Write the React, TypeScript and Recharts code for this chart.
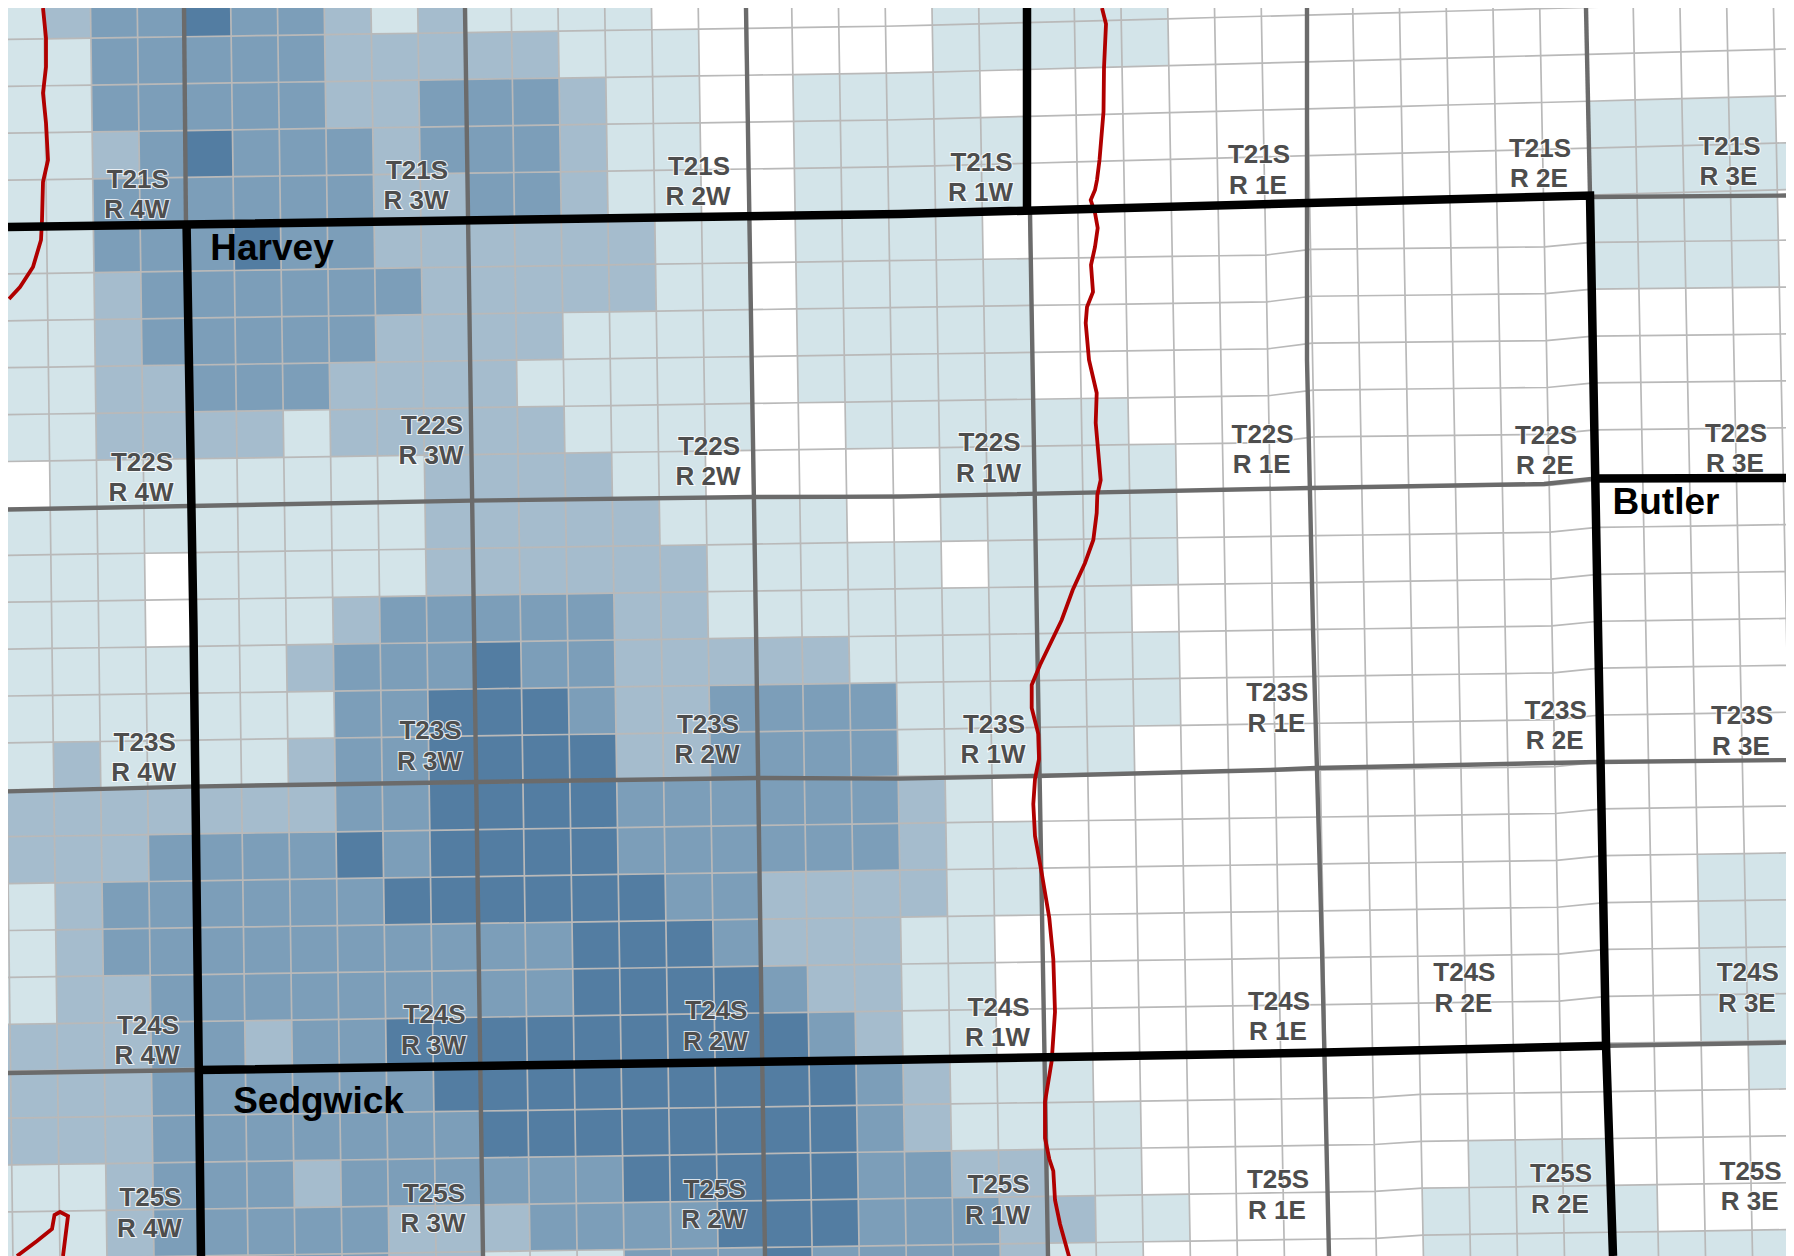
import React from 'react';
import { ScatterChart, Scatter, XAxis, YAxis } from 'recharts';

// Choropleth class of every section, row by row (north to south), column by column (west to east)
const levelRows: number[][] = [
  [1,2,3,3,4,3,3,2,1,2,1,1,1,1,0,0,0,0,0,0,1,1,1,1,1],
  [1,1,3,3,3,3,3,2,2,2,2,2,1,1,1,0,0,0,0,0,1,1,1,1,1],
  [1,1,3,3,3,3,3,2,2,3,3,3,2,1,1,0,0,1,1,1,1,0],
  [1,1,2,3,4,3,3,3,2,3,3,3,2,1,1,0,0,1,1,1,1,1,0,0,0,0,0,0,0,0,0,0,0,0,1,1,1,1],
  [1,1,3,3,3,3,3,3,2,2,3,3,2,1,1,0,0,1,1,1,1,1,0,0,0,0,0,0,0,0,0,0,0,0,1,1,1,1,1],
  [1,1,3,3,3,4,3,3,2,2,2,2,2,2,1,1,0,1,1,1,1,0,0,0,0,0,0,0,0,0,0,0,0,0,1,1,1,1],
  [1,1,2,3,3,3,3,3,3,2,2,2,2,2,1,1,0,1,1,1,1,1,0,0,0,0,0,0,0,0,0,0,0,0,1,1,1,1],
  [1,1,2,3,3,3,3,3,2,2,2,2,1,1,1,1,0,1,1,1,1,1],
  [1,1,2,2,3,3,3,2,2,2,2,1,1,1,1,1,0,1,1,1,1,1],
  [1,1,2,2,2,2,1,2,2,2,2,2,1,1,1,1,0,0,1,1,1,1,1,1],
  [0,1,1,1,1,1,1,1,1,2,2,2,2,1,1,0,0,0,0,0,1,1,1,1,1],
  [1,1,1,1,1,1,1,1,1,2,2,2,2,2,1,1,1,1,0,0,1,1,1,1,1],
  [1,1,1,0,1,1,1,1,1,2,2,2,2,2,2,1,1,1,1,1,0,1,1,1,1],
  [1,1,1,0,1,1,1,2,3,3,3,3,3,2,2,1,1,1,1,1,1,1,1,1],
  [1,1,1,1,1,1,2,3,3,3,4,3,3,2,2,2,2,2,1,1,1,1,1,1,1],
  [1,1,1,1,1,1,1,3,3,4,4,4,3,2,2,3,3,3,3,1,1,1,1,1,1],
  [1,2,1,1,1,1,2,3,3,4,4,4,4,2,2,3,3,3,3,1,1,1,1,1],
  [2,2,2,2,2,2,2,3,3,4,4,4,4,3,3,3,3,3,3,2,1,0],
  [2,2,2,3,3,3,3,4,3,4,4,4,4,3,3,3,3,3,3,2,1,1],
  [1,2,3,3,3,3,3,3,4,4,4,4,4,4,3,3,2,2,2,2,1,1,0,0,0,0,0,0,0,0,0,0,0,0,0,0,1,1,1],
  [1,2,3,3,3,3,3,3,3,3,3,3,4,4,4,3,2,2,2,1,1,0,0,0,0,0,0,0,0,0,0,0,0,0,0,0,1,1,1],
  [1,2,2,3,3,3,3,3,3,3,3,3,4,4,4,4,3,2,2,1,1,0,0,0,0,0,0,0,0,0,0,0,0,0,0,0,1,1,1],
  [2,2,2,3,3,2,3,3,4,4,4,4,4,4,4,4,4,3,2,1,1,0,0,0,0,0,0,0,0,0,0,0,0,0,0,0,1,1,1],
  [2,2,2,3,3,3,3,3,3,4,4,4,4,4,4,4,4,4,3,2,1,1,1,0,0,0,0,0,0,0,0,0,0,0,0,0,0,1,0],
  [2,2,2,3,3,3,3,3,3,3,4,4,4,4,4,4,4,4,3,2,1,1,1,1,0],
  [1,1,2,3,3,3,2,3,3,3,3,3,3,4,4,4,4,4,3,3,2,2,1,1,0,0,0,0,0,0,0,1,1,1],
  [1,1,2,3,3,3,3,3,2,2,2,3,3,3,3,4,4,4,3,3,3,2,2,1,1,0,0,0,0,0,1,1,1,1,1],
  [1,1,2,3,3,3,3,3,2,2,1,1,1,3,3,3,4,3,3,3,3,2,1,1,0,0,0,0,0,0,1,1,1,1,1,1,1,1,1],
];
const levelColors = ['#FFFFFF', '#D3E4E9', '#A5BCCD', '#7C9EB9', '#537DA2'];

// Boundaries, in map units
const rangeWest: number[][] = [[184, 8], [186, 227]];
const range3W: number[][] = [[465, 8], [474, 628], [483, 1256]];
const range2W: number[][] = [[746, 8], [756, 628], [765, 1256]];
const range1W: number[][] = [[1030, 212], [1037, 628], [1048, 1256]];
const range1E: number[][] = [[1307, 8], [1307, 360], [1313, 628], [1322, 948], [1329, 1256]];
const range2E: number[][] = [[1586, 8], [1590, 195]];
const town22: number[][] = [[8, 509.5], [471, 500.6], [754, 497], [900, 496.6], [1310, 488], [1544, 484], [1594, 478.6]];
const town23: number[][] = [[8, 791.4], [189, 786.6], [476, 782], [758, 778], [900, 778.6], [1037, 776], [1270, 770], [1316, 768], [1598, 762], [1794, 760]];
const town24West: number[][] = [[8, 1073], [198, 1070]];
const town24East: number[][] = [[1607, 1045.7], [1794, 1042.5]];
const town21East: number[][] = [[1590, 197], [1794, 195.5]];

const countyA: number[][] = [[8, 227], [900, 214], [1590, 195.5], [1598, 628], [1606, 1044], [1613, 1256]];
const countyB: number[][] = [[186.6, 227], [193.5, 628], [201, 1256]];
const countyC: number[][] = [[198, 1070], [900, 1059.7], [1324, 1052.5], [1607, 1045.7]];
const countyD: number[][] = [[1594, 478.6], [1794, 478]];
const countyE: number[][] = [[1027, 8], [1027, 210]];

const riverWest: number[][] = [[43, 8], [46, 38], [46, 67], [43, 93], [46, 123], [48, 160], [43, 182], [42, 220], [41, 240], [33, 267], [20, 287], [9, 299]];
const riverEast: number[][] = [[1102, 8], [1106, 24], [1104, 68], [1103.5, 112], [1099.5, 160], [1097, 180], [1095, 190], [1090.7, 200], [1095, 213], [1097.7, 228], [1095, 247], [1091, 265], [1093, 292], [1087, 307], [1085.7, 323], [1089, 360], [1096.7, 393], [1095.7, 423], [1100.7, 480], [1097.3, 495], [1096.7, 513], [1093.3, 540], [1085, 563], [1072.7, 590], [1061.7, 620], [1040, 665], [1031.7, 685], [1031.7, 708], [1038.3, 734], [1039, 759], [1035, 779], [1033.3, 804], [1035, 836], [1041.7, 873], [1049.3, 918], [1053.3, 959], [1055, 1012], [1051.7, 1061], [1045, 1102], [1045, 1138], [1049.3, 1159], [1053.3, 1171], [1055, 1200], [1060, 1224], [1070, 1260]];
const riverSouth: number[][] = [[17, 1256], [37, 1241], [52, 1229], [54.5, 1215], [60, 1212], [68, 1216], [63, 1256]];

const townshipLabels: [string, string, number, number, number][] = [
  ['T21S', 'R 4W', 137.8, 179, 209], ['T21S', 'R 3W', 417, 169.4, 200], ['T21S', 'R 2W', 699, 166, 196],
  ['T21S', 'R 1W', 981.5, 161.4, 192], ['T21S', 'R 1E', 1259, 154, 185], ['T21S', 'R 2E', 1540, 147.4, 178], ['T21S', 'R 3E', 1729.5, 145.4, 176],
  ['T22S', 'R 4W', 142, 462, 492], ['T22S', 'R 3W', 432, 424.5, 455], ['T22S', 'R 2W', 709, 446, 476],
  ['T22S', 'R 1W', 989.5, 441.7, 472.6], ['T22S', 'R 1E', 1262.6, 433.7, 463.8], ['T22S', 'R 2E', 1546, 434.5, 464.6], ['T22S', 'R 3E', 1736, 432.5, 462.6],
  ['T23S', 'R 4W', 144.7, 742, 772], ['T23S', 'R 3W', 430.5, 730, 761], ['T23S', 'R 2W', 708, 724, 754],
  ['T23S', 'R 1W', 994, 724, 754], ['T23S', 'R 1E', 1277.4, 692, 723], ['T23S', 'R 2E', 1555.7, 710, 740], ['T23S', 'R 3E', 1742, 715.3, 746],
  ['T24S', 'R 4W', 148, 1024.5, 1055], ['T24S', 'R 3W', 434.6, 1013.7, 1044.5], ['T24S', 'R 2W', 716.4, 1009.7, 1040.5],
  ['T24S', 'R 1W', 998.6, 1006.5, 1036.5], ['T24S', 'R 1E', 1279, 1001, 1031], ['T24S', 'R 2E', 1464.4, 971.6, 1002.4], ['T24S', 'R 3E', 1747.8, 971.6, 1002.4],
  ['T25S', 'R 4W', 150.4, 1196.7, 1227.5], ['T25S', 'R 3W', 434, 1192.7, 1222.7], ['T25S', 'R 2W', 714.7, 1188.7, 1218.7],
  ['T25S', 'R 1W', 998.6, 1184, 1214.7], ['T25S', 'R 1E', 1278, 1178.7, 1209.5], ['T25S', 'R 2E', 1561, 1172.7, 1204], ['T25S', 'R 3E', 1750.6, 1170.6, 1200.7],
];
const countyLabels: [string, number, number][] = [['Harvey', 272, 247], ['Sedgwick', 318.5, 1100.5], ['Butler', 1666, 501]];

// The section grid is slightly rotated and jogs at some range lines: corner (i, j) in map units
const COLS = 39;
const ROWS = 28;
const unit = (v: number) => Math.max(0, Math.min(1, v));
const jog = (i: number, j: number) => {
  if (j <= 5) return 0;
  if (j >= 24) return 2.5 * unit(i - 29);
  return (j <= 10 ? 5 * unit(i - 27) : 0) + 4 * unit(i - 33);
};
const corner = (i: number, j: number): [number, number] => {
  const u = 184 + 46.75 * (i - 4) + (i >= 23 && i <= 27 ? 2 : 0);
  const v = 227 + 46.9 * (j - 5);
  const rise = (x: number) => {
    const extra = j <= 5 ? 0.012 * Math.max(x - 900, 0) : j <= 10 ? -0.004 * Math.max(x - 1306, 0) : 0;
    return 0.015 * (x - 8) + jog(i, j) + extra;
  };
  const y0 = v - rise(u);
  const x = u + (y0 - 8) * (0.0136 + (u - 184) * 4.57e-6);
  return [x, v - rise(x)];
};

const toPts = (line: number[][]) => line.map(([x, y]) => ({ x, y }));
const cells = levelRows.flatMap((row, r) =>
  row.map((level, c) => {
    const poly = [corner(c === 0 ? c - 1 : c, r), corner(c + 1, r), corner(c + 1, r + 1), corner(c === 0 ? c - 1 : c, r + 1)];
    const x = poly.reduce((s, p) => s + p[0], 0) / 4;
    const y = poly.reduce((s, p) => s + p[1], 0) / 4;
    return { x, y, level, offsets: poly.map(([a, b]) => [a - x, b - y]) };
  }).filter((d) => d.level > 0),
);
const seq = (from: number, to: number) => Array.from({ length: to - from + 1 }, (_, k) => from + k);
const verticals = seq(0, COLS).map((i) => seq(0, ROWS).map((j) => corner(i, j)));
const horizontals = seq(0, ROWS).map((j) => seq(-1, COLS).map((i) => corner(i, j)));
const labelPoints = townshipLabels.flatMap(([a, b, x, y1, y2]) => [{ x, y: y1, text: a }, { x: x - 1, y: y2, text: b }]);
const countyPoints = countyLabels.map(([text, x, y]) => ({ x, y, text }));

const CellShape = (p: any) => {
  const d = p.payload;
  return (
    <polygon
      points={d.offsets.map(([a, b]: number[]) => `${p.cx + a},${p.cy + b}`).join(' ')}
      fill={levelColors[d.level]}
    />
  );
};
const NoDot = () => null;
const TownshipText = (p: any) => (
  <text x={p.cx} y={p.cy} dy="0.35em" textAnchor="middle" fontFamily="'Liberation Sans', Arial, sans-serif" fontWeight={700} fontSize={26}
    fill="#4D4D4D" stroke="#FFFFFF" strokeOpacity={0.8} strokeWidth={2.2} style={{ paintOrder: 'stroke' }}>
    {p.payload.text}
  </text>
);
const CountyText = (p: any) => (
  <text x={p.cx} y={p.cy} dy="0.35em" textAnchor="middle" fontFamily="'Liberation Sans', Arial, sans-serif" fontWeight={700} fontSize={37} fill="#000000">
    {p.payload.text}
  </text>
);

const lineSeries = (lines: number[][][], stroke: string, strokeWidth: number, key: string) =>
  lines.map((l, n) => (
    <Scatter key={`${key}${n}`} data={toPts(l)} line={{ stroke, strokeWidth, fill: 'none' }} lineType="joint" shape={NoDot} isAnimationActive={false} />
  ));

export default function App() {
  return (
    <ScatterChart width={1786} height={1248} margin={{ top: 0, right: 0, bottom: 0, left: 0 }}>
      <XAxis dataKey="x" type="number" domain={[8, 1794]} allowDataOverflow hide />
      <YAxis dataKey="y" type="number" domain={[8, 1256]} reversed allowDataOverflow hide />
      <Scatter data={cells} shape={CellShape} isAnimationActive={false} />
      {lineSeries(verticals, '#B9B9B9', 1.7, 'v')}
      {lineSeries(horizontals, '#B9B9B9', 1.7, 'h')}
      {lineSeries([rangeWest, range3W, range2W, range1W, range1E, range2E, town22, town23, town24West, town24East, town21East], '#6B6B6B', 4.4, 'g')}
      {lineSeries([riverWest, riverEast, riverSouth], '#B00000', 3.8, 'r')}
      {lineSeries([countyA, countyB, countyC, countyD, countyE], '#000000', 8.5, 'k')}
      <Scatter data={labelPoints} shape={TownshipText} isAnimationActive={false} />
      <Scatter data={countyPoints} shape={CountyText} isAnimationActive={false} />
    </ScatterChart>
  );
}
